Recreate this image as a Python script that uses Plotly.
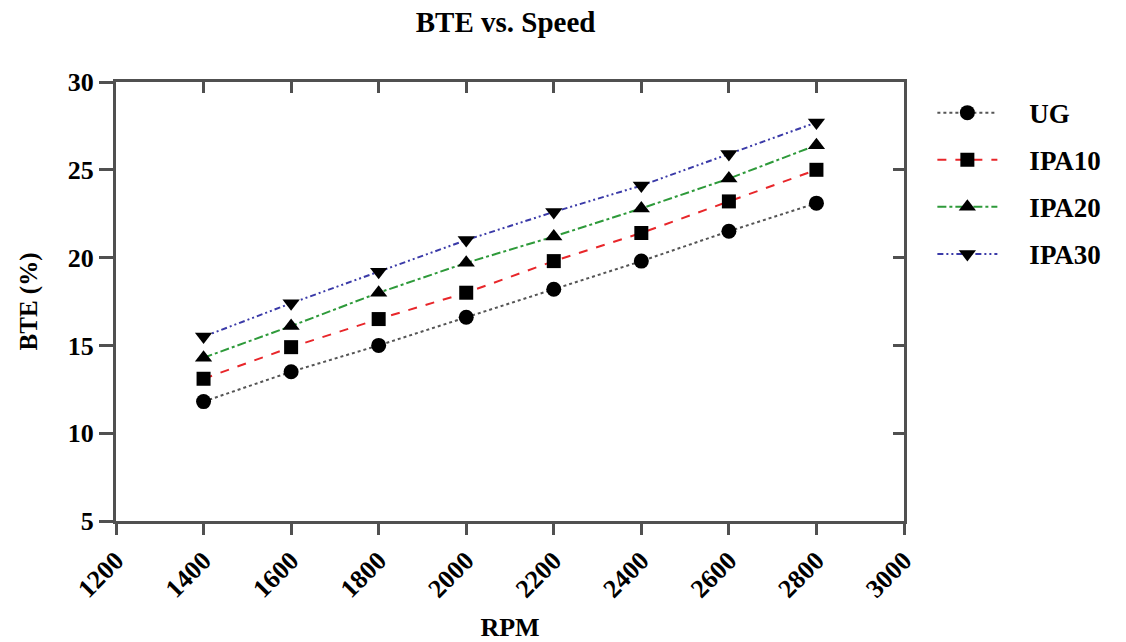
import plotly.graph_objects as go

rpm = [1400, 1600, 1800, 2000, 2200, 2400, 2600, 2800]
ug = [11.8, 13.5, 15.0, 16.6, 18.2, 19.8, 21.5, 23.1]
ipa10 = [13.1, 14.9, 16.5, 18.0, 19.8, 21.4, 23.2, 25.0]
ipa20 = [14.3, 16.1, 18.0, 19.7, 21.2, 22.8, 24.5, 26.4]
ipa30 = [15.5, 17.4, 19.2, 21.0, 22.6, 24.1, 25.9, 27.7]

series = [
    ("UG", ug, "#555555", "dot", "circle", 15),
    ("IPA10", ipa10, "#e8262a", "dash", "square", 14),
    ("IPA20", ipa20, "#2e9a3a", "dashdot", "triangle-up", 15),
    ("IPA30", ipa30, "#3a3aa8", "6px,3px,2px,3px,2px,3px", "triangle-down", 15),
]

FONT = "Liberation Serif"
PAD = "\u00a0" * 4
fig = go.Figure()
for name, vals, color, dash, sym, msize in series:
    fig.add_trace(go.Scatter(
        x=rpm, y=vals, name=f"{PAD}<b>{name}</b>", legendgroup=name, mode="lines+markers",
        line=dict(color=color, dash=dash, width=2),
        marker=dict(symbol=sym, size=msize, color="black"),
    ))
# dummy trace so mirrored axes are drawn
fig.add_trace(go.Scatter(x=[None], y=[None], xaxis="x2", yaxis="y2",
                         showlegend=False, hoverinfo="skip"))

axcol = "#505050"
fig.update_layout(
    width=1126, height=642,
    margin=dict(l=116, r=222, t=82, b=121),
    paper_bgcolor="white", plot_bgcolor="white",
    title=dict(text="<b>BTE vs. Speed</b>", x=0.449, xanchor="center",
               y=0.966, yanchor="middle",
               font=dict(family=FONT, size=29, color="black")),
    font=dict(family=FONT, color="black"),
    xaxis=dict(range=[1200, 3000], tickvals=list(range(1200, 3001, 200)),
               automargin=False,
               showgrid=False, zeroline=False, showline=True, linewidth=3,
               linecolor=axcol, ticks="outside", ticklen=11, tickwidth=2.5,
               tickcolor=axcol, tickangle=-45,
               tickfont=dict(family=FONT, size=26, color="black", weight="bold"),
               title=dict(text="<b>RPM</b>", font=dict(family=FONT, size=26), standoff=18)),
    yaxis=dict(range=[5, 30], tickvals=[5, 10, 15, 20, 25, 30],
               automargin=False,
               showgrid=False, zeroline=False, showline=True, linewidth=3,
               linecolor=axcol, ticks="outside", ticklen=14, tickwidth=2.5,
               tickcolor=axcol,
               tickfont=dict(family=FONT, size=26, color="black", weight="bold"),
               title=dict(text="<b>BTE (%)</b>", font=dict(family=FONT, size=25), standoff=24)),
    xaxis2=dict(overlaying="x", side="top", range=[1200, 3000],
                tickvals=list(range(1200, 3001, 200)), showticklabels=False,
                showgrid=False, zeroline=False, showline=True, linewidth=3,
                linecolor=axcol, ticks="inside", ticklen=11, tickwidth=2.5, tickcolor=axcol),
    yaxis2=dict(overlaying="y", side="right", range=[5, 30],
                tickvals=[5, 10, 15, 20, 25, 30], showticklabels=False,
                showgrid=False, zeroline=False, showline=True, linewidth=3,
                linecolor=axcol, ticks="inside", ticklen=11, tickwidth=2.5, tickcolor=axcol),
    legend=dict(x=1.036, y=0.985, xanchor="left", yanchor="top",
                font=dict(family=FONT, size=27, color="black"),
                tracegroupgap=9, itemwidth=60, bgcolor="rgba(0,0,0,0)"),
)
fig.write_html("out.html")
